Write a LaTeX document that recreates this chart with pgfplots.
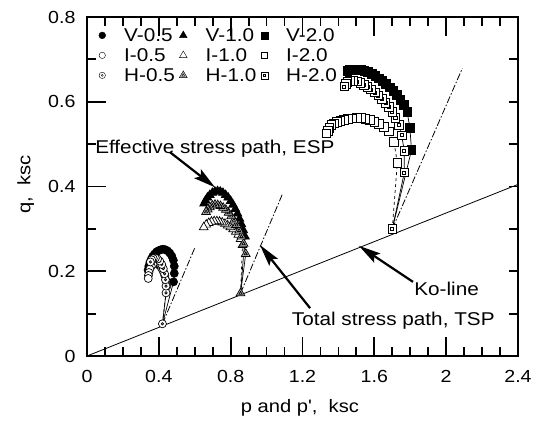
\documentclass[border=0pt]{standalone}
\usepackage{fontspec}
\setmainfont{Liberation Sans}[FakeStretch=1.12,Ligatures=TeXOff]
\usepackage{pgfplots}
\pgfplotsset{compat=1.18}
\usetikzlibrary{arrows.meta}

% circle with a dot in the middle
\pgfdeclareplotmark{cdot}{%
  \pgfpathcircle{\pgfpointorigin}{\pgfplotmarksize}%
  \pgfusepathqfillstroke
  \pgfpathcircle{\pgfpointorigin}{0.3\pgfplotmarksize}%
  \pgfusepathqstroke}
% square with a small square inside
\pgfdeclareplotmark{sqdot}{%
  \pgfpathrectangle{\pgfqpoint{-\pgfplotmarksize}{-\pgfplotmarksize}}{\pgfqpoint{2\pgfplotmarksize}{2\pgfplotmarksize}}%
  \pgfusepathqfillstroke
  \pgfpathrectangle{\pgfqpoint{-0.35\pgfplotmarksize}{-0.35\pgfplotmarksize}}{\pgfqpoint{0.7\pgfplotmarksize}{0.7\pgfplotmarksize}}%
  \pgfusepathqstroke}
% triangle with a small triangle inside
\pgfdeclareplotmark{tridot}{%
  \pgfpathmoveto{\pgfqpoint{0pt}{1.2\pgfplotmarksize}}%
  \pgfpathlineto{\pgfqpointpolar{-30}{1.2\pgfplotmarksize}}%
  \pgfpathlineto{\pgfqpointpolar{210}{1.2\pgfplotmarksize}}%
  \pgfpathclose
  \pgfusepathqfillstroke
  \pgfpathmoveto{\pgfqpoint{0pt}{0.45\pgfplotmarksize}}%
  \pgfpathlineto{\pgfqpointpolar{-30}{0.45\pgfplotmarksize}}%
  \pgfpathlineto{\pgfqpointpolar{210}{0.45\pgfplotmarksize}}%
  \pgfpathclose
  \pgfusepathqstroke}

\pgfplotsset{
  path/.style={black, line width=0.7pt, forget plot},
  tsp/.style={black, line width=0.8pt, forget plot, dash pattern=on 7pt off 2pt on 1.5pt off 2pt},
}

\begin{document}
\begin{tikzpicture}
\useasboundingbox (-87pt,-68pt) rectangle (456pt,356pt);
\begin{axis}[
  at={(0pt,0pt)}, anchor=south west,
  scale only axis, width=431pt, height=339pt,
  xmin=0, xmax=2.4, ymin=0, ymax=0.8,
  xtick={0,0.4,0.8,1.2,1.6,2,2.4},
  ytick={0,0.2,0.4,0.6,0.8},
  minor x tick num=3, minor y tick num=1,
  xtick pos=bottom, ytick pos=left,
  tick align=inside,
  major tick length=19pt, minor tick length=9pt,
  axis line style={line width=1.8pt},
  major tick style={line width=1.8pt, black},
  minor tick style={line width=1.8pt, black},
  /pgf/number format/assume math mode=true,
  tick label style={font=\fontsize{17.5}{17.5}\selectfont},
  xticklabel style={yshift=-11pt},
  yticklabel style={xshift=-8pt},
  xlabel={p and p',\ \ ksc},
  ylabel={q,\ \ ksc},
  label style={font=\fontsize{18}{18}\selectfont},
  xlabel style={at={(axis description cs:0.494,-0.153)}, anchor=center},
  ylabel style={at={(axis description cs:-0.142,0.506)}, anchor=center},
  clip=false,
  legend columns=3,
  legend cell align=left,
  legend image code/.code={\draw[#1] plot coordinates {(0pt,0pt)};},
  legend style={at={(axis cs:0.065,0.776)}, anchor=north west, draw=none, fill=none,
    inner sep=0pt, font=\fontsize{18.5}{18.5}\selectfont,
    row sep=4pt,
    nodes={inner sep=1.5pt, text height=13pt, text depth=0pt},
    /tikz/every odd column/.append style={column sep=17pt},
    /tikz/every even column/.append style={column sep=3pt}},
]
% Ko-line
\addplot[black, line width=0.8pt, forget plot] coordinates {(0,0) (2.4,0.405)};

% total stress paths
\addplot[tsp] coordinates {(0.42,0.076) (0.60,0.255)};
\addplot[tsp] coordinates {(0.855,0.148) (1.090,0.384)};
\addplot[tsp] coordinates {(1.70,0.300) (2.090,0.679)};

% ---- 0.5 ksc ----
\addplot[path, mark=*, mark size=4pt, mark phase=2, mark options={solid, fill=black}] coordinates {
 (0.42,0.076) (0.482,0.175) (0.486,0.195) (0.486,0.212) (0.481,0.226) (0.472,0.236) (0.461,0.243)
 (0.449,0.248) (0.436,0.251) (0.424,0.252) (0.412,0.251) (0.400,0.249) (0.388,0.246)
 (0.377,0.241) (0.367,0.236) (0.358,0.229) (0.350,0.221) (0.344,0.212) (0.340,0.203)};
\addplot[path, dashed, mark=*, mark size=4pt, mark phase=2, mark options={solid, fill=white}] coordinates {
 (0.42,0.076) (0.445,0.165) (0.440,0.178) (0.433,0.190) (0.424,0.200) (0.414,0.208) (0.403,0.214)
 (0.391,0.218) (0.379,0.219) (0.368,0.217) (0.358,0.212) (0.350,0.205) (0.345,0.197)
 (0.342,0.190) (0.341,0.183)};
\addplot[path, mark=cdot, mark size=4pt, mark options={solid, fill=white}] coordinates {
 (0.42,0.076) (0.440,0.149) (0.440,0.165) (0.437,0.180) (0.432,0.194) (0.425,0.206) (0.416,0.216)
 (0.405,0.224) (0.393,0.229) (0.381,0.231) (0.369,0.230) (0.360,0.227) (0.353,0.222)};

% ---- 1.0 ksc ----
\addplot[path, mark=triangle*, mark size=5pt, mark phase=2, mark options={solid, fill=black}] coordinates {
 (0.855,0.148) (0.880,0.282) (0.870,0.297) (0.860,0.311) (0.849,0.324) (0.838,0.336) (0.826,0.347)
 (0.813,0.357) (0.800,0.366) (0.786,0.374) (0.772,0.380) (0.757,0.385) (0.742,0.388)
 (0.727,0.389) (0.712,0.388) (0.698,0.385) (0.684,0.380) (0.671,0.374) (0.660,0.367) (0.652,0.360)};
\addplot[path, dashed, mark=triangle*, mark size=5pt, mark phase=2, mark options={solid, fill=white}] coordinates {
 (0.855,0.148) (0.866,0.262) (0.855,0.276) (0.842,0.286) (0.828,0.293) (0.813,0.299) (0.798,0.304)
 (0.783,0.308) (0.768,0.312) (0.753,0.315) (0.738,0.317) (0.723,0.318) (0.708,0.318)
 (0.693,0.317) (0.678,0.314) (0.664,0.310) (0.650,0.304)};
\addplot[path, mark=tridot, mark size=4.2pt, mark options={solid, fill=gray!55}] coordinates {
 (0.855,0.148) (0.884,0.241) (0.872,0.265) (0.860,0.282) (0.847,0.296) (0.833,0.309) (0.818,0.320)
 (0.803,0.330) (0.788,0.338) (0.773,0.345) (0.758,0.350) (0.743,0.354) (0.728,0.356)
 (0.713,0.357) (0.698,0.355) (0.684,0.351) (0.672,0.346) (0.663,0.340)};

% ---- 2.0 ksc ----
\addplot[path, mark=square*, mark size=4.3pt, mark phase=2, mark options={solid, fill=black}] coordinates {
 (1.70,0.300) (1.807,0.486) (1.798,0.538) (1.783,0.576) (1.765,0.592) (1.745,0.605) (1.725,0.616)
 (1.705,0.626) (1.685,0.634) (1.665,0.642) (1.645,0.649) (1.625,0.655) (1.605,0.661)
 (1.585,0.666) (1.565,0.670) (1.545,0.673) (1.525,0.675) (1.505,0.676) (1.485,0.676)
 (1.465,0.675) (1.450,0.673)};
\addplot[path, dashed, mark=square*, mark size=4.3pt, mark phase=2, mark options={solid, fill=white}] coordinates {
 (1.70,0.300) (1.728,0.456) (1.709,0.506) (1.680,0.530) (1.652,0.541) (1.626,0.548) (1.601,0.553)
 (1.576,0.557) (1.551,0.560) (1.526,0.562) (1.501,0.562) (1.476,0.561) (1.452,0.559)
 (1.430,0.557) (1.410,0.555) (1.392,0.552) (1.375,0.549) (1.360,0.545) (1.349,0.539)
 (1.340,0.532) (1.333,0.525)};
\addplot[path, mark=sqdot, mark size=4.3pt, mark options={solid, fill=white}] coordinates {
 (1.70,0.300) (1.767,0.433) (1.767,0.484) (1.752,0.521) (1.737,0.545) (1.717,0.562) (1.700,0.576)
 (1.682,0.588) (1.662,0.598) (1.642,0.607) (1.622,0.615) (1.602,0.622) (1.582,0.629)
 (1.562,0.635) (1.542,0.640) (1.522,0.645) (1.502,0.648) (1.482,0.650) (1.464,0.650)
 (1.450,0.647) (1.440,0.642) (1.432,0.636)};

% legend
\addlegendimage{only marks, mark=*, mark size=3.4pt, fill=black}
\addlegendentry{V-0.5}
\addlegendimage{only marks, mark=triangle*, mark size=4.4pt, fill=black}
\addlegendentry{V-1.0}
\addlegendimage{only marks, mark=square*, mark size=3.4pt, fill=black}
\addlegendentry{V-2.0}
\addlegendimage{only marks, mark=*, mark size=3.2pt, fill=white}
\addlegendentry{I-0.5}
\addlegendimage{only marks, mark=triangle*, mark size=4.4pt, fill=white}
\addlegendentry{I-1.0}
\addlegendimage{only marks, mark=square*, mark size=3.2pt, fill=white}
\addlegendentry{I-2.0}
\addlegendimage{only marks, mark=cdot, mark size=3.2pt, fill=white}
\addlegendentry{H-0.5}
\addlegendimage{only marks, mark=tridot, mark size=3.8pt, fill=gray!55}
\addlegendentry{H-1.0}
\addlegendimage{only marks, mark=sqdot, mark size=3.4pt, fill=white}
\addlegendentry{H-2.0}

% annotations
\node[anchor=base west, inner sep=0pt, font=\fontsize{18.5}{18.5}\selectfont] at (axis cs:0.045,0.479) {Effective stress path, ESP};
\node[anchor=base west, inner sep=0pt, font=\fontsize{18.5}{18.5}\selectfont] at (axis cs:1.140,0.071) {Total stress path, TSP};
\node[anchor=base west, inner sep=0pt, font=\fontsize{18.5}{18.5}\selectfont] at (axis cs:1.822,0.142) {Ko-line};
\draw[line width=2.2pt, -{Stealth[length=22pt, width=11pt, inset=4pt]}] (axis cs:0.462,0.481) -- (axis cs:0.713,0.398);
\draw[line width=2.2pt, -{Stealth[length=22pt, width=11pt, inset=4pt]}] (axis cs:1.242,0.113) -- (axis cs:0.963,0.262);
\draw[line width=2.2pt, -{Stealth[length=22pt, width=11pt, inset=4pt]}] (axis cs:1.815,0.175) -- (axis cs:1.514,0.260);
\end{axis}
% tick marks on the top, left and right edges of the frame
\foreach \i in {1,...,23} {
  \pgfmathsetmacro\len{mod(\i,4)==0 ? 19 : 9}
  \draw[line width=1.8pt] ({\i*17.9583pt},339pt) -- ++(0pt,-\len pt);
}
\foreach \j in {1,...,7} {
  \pgfmathsetmacro\len{mod(\j,2)==0 ? 19 : 9}
  \draw[line width=1.8pt] (0pt,{\j*42.375pt}) -- ++(\len pt,0pt);
  \draw[line width=1.8pt] (431pt,{\j*42.375pt}) -- ++(-9pt,0pt);
}
\end{tikzpicture}
\end{document}
